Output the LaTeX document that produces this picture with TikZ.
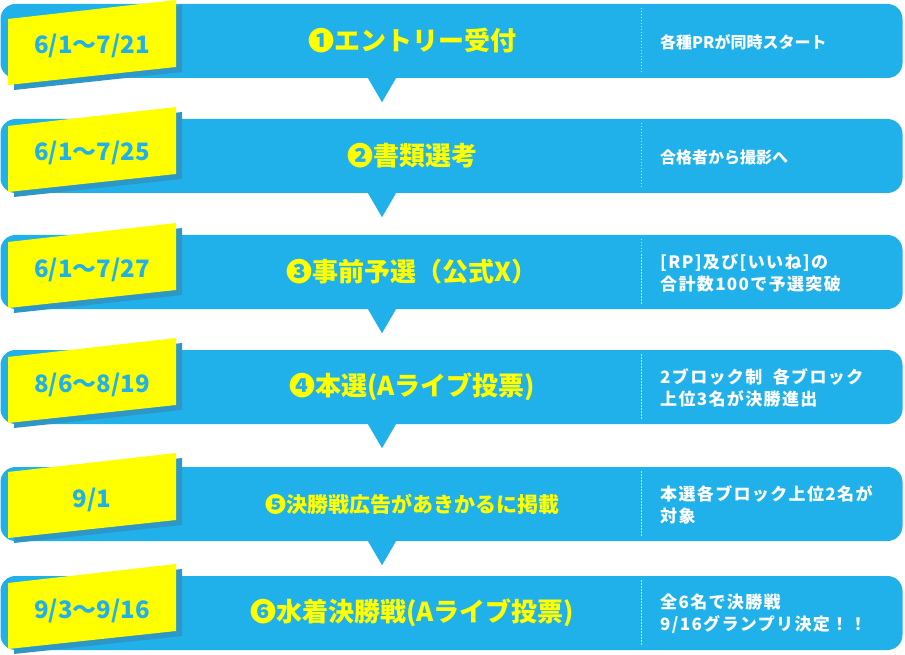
\documentclass[tikz,border=0pt]{standalone}
\usepackage{fontspec}
\setmainfont{Noto Sans CJK JP}
\usetikzlibrary{calc}
\definecolor{barblue}{HTML}{21B1EA}
\definecolor{shadowblue}{HTML}{2E97C8}
\definecolor{tagyellow}{HTML}{FFFF00}
\definecolor{seplight}{HTML}{BFE6F8}
\tikzset{
  barbox/.style={fill=barblue, draw=none, rounded corners=15pt, minimum width=902pt, minimum height=74pt, inner sep=0pt},
  datetext/.style={text=barblue, font=\bfseries\fontsize{24}{24}\selectfont, anchor=base, inner sep=0pt},
  titletext/.style={text=tagyellow, font=\bfseries\fontsize{26}{26}\selectfont, inner sep=0pt},
  notetext/.style={text=white, font=\bfseries\fontsize{16}{21}\selectfont, align=left, anchor=west, inner sep=0pt},
  notewide/.style={font=\bfseries\fontsize{17}{22}\selectfont\addfontfeature{LetterSpace=8}},
  noteplain/.style={},
  sepline/.style={seplight, line width=1pt, dash pattern=on 1.5pt off 1.5pt},
  pointer/.style={fill=barblue, draw=none}
}
% #1 index, #2 bar top, #3 tag offset, #4 date, #5 title, #6 note, #7 note style
\newcommand\stepblock[7]{%
  \node[barbox] (bar#1) at (451.5,{#2+37}) {};
  \fill[shadowblue] (14,{#2+#3+12}) -- (182,{#2+#3-7}) -- (182,{#2+#3+60}) -- (14,{#2+#3+78}) -- cycle;
  \fill[tagyellow] (8,{#2+#3+7}) -- (176,{#2+#3-12}) -- (176,{#2+#3+55}) -- (8,{#2+#3+73}) -- cycle;
  \node[datetext] (date#1) at (92,{#2+#3+42}) {#4};
  \node[titletext] (title#1) at (412,{#2+37}) {#5};
  \coordinate (septop#1) at (641,{#2+4});
  \coordinate (sepbot#1) at (641,{#2+69});
  \draw[sepline] (septop#1) -- (sepbot#1);
  \node[notetext,#7] (note#1) at (660,{#2+38}) {#6};
}
\begin{document}
\begin{tikzpicture}[x=1pt,y=-1pt]
\fill[white] (0,0) rectangle (905,655);
\useasboundingbox (0,0) rectangle (905,655);
\stepblock{1}{4}{8}{6/1〜7/21}{❶エントリー受付}{各種PRが同時スタート}{noteplain}
\stepblock{2}{119}{0}{6/1〜7/25}{❷書類選考}{合格者から撮影へ}{noteplain}
\stepblock{3}{235}{0}{6/1〜7/27}{❸事前予選（公式X）}{[RP]及び[いいね]の\\合計数100で予選突破}{notewide}
\stepblock{4}{350}{0}{8/6〜8/19}{❹本選(Aライブ投票)}{2ブロック制\ \ 各ブロック\\上位3名が決勝進出}{notewide}
\stepblock{5}{467}{-2}{9/1}{{\fontsize{21}{21}\selectfont ❺決勝戦広告があきかるに掲載}}{本選各ブロック上位2名が\\対象}{notewide}
\stepblock{6}{576}{0}{9/3〜9/16}{❻水着決勝戦(Aライブ投票)}{全6名で決勝戦\\9/16グランプリ決定！！}{notewide}
\foreach \i in {1,...,5}{
  \fill[pointer] ($(bar\i.south)+(-83.5,0)$) -- ($(bar\i.south)+(-55.5,0)$) -- ($(bar\i.south)+(-69.5,24)$) -- cycle;
}
\end{tikzpicture}
\end{document}
